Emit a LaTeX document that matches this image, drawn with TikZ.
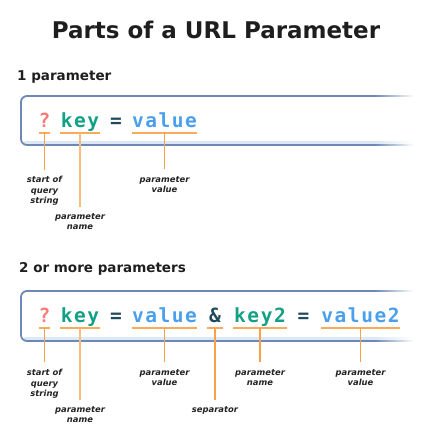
\documentclass[tikz,border=0pt]{standalone}
\usepackage{fontspec}
\setmainfont{DejaVu Sans}
\newfontfamily\codefont[LetterSpace=8]{DejaVu Sans Mono}
\definecolor{boxc}{HTML}{6E88B5}
\definecolor{boxin}{HTML}{DDE8F6}
\definecolor{qc}{HTML}{F47C7C}
\definecolor{keyc}{HTML}{14A085}
\definecolor{opc}{HTML}{1F4A5C}
\definecolor{valc}{HTML}{4B9FEC}
\definecolor{orc}{HTML}{F7A248}
\definecolor{lblc}{HTML}{222222}
\definecolor{titc}{HTML}{1E1E1E}
\tikzset{
  tok/.style={anchor=base, inner sep=0pt, font=\codefont\bfseries\fontsize{19.5}{21}\selectfont},
  uline/.style={draw=orc!90, line width=1.5pt},
  conn/.style={draw=orc, line width=1.2pt},
  lbl/.style={anchor=north, inner sep=0pt, align=center, text=lblc,
    font=\bfseries\itshape\fontsize{8.4}{10.5}\selectfont},
  head/.style={anchor=base west, inner sep=0pt, text=titc, font=\bfseries\fontsize{13.5}{15}\selectfont},
}
\begin{document}
\begin{tikzpicture}[x=1pt,y=-1pt]
\useasboundingbox (0,0) rectangle (432,440);
% title
\node[anchor=base, inner sep=0pt, text=titc, font=\bfseries\fontsize{23}{26}\selectfont] (title) at (216,38.5) {Parts of a URL Parameter};
\node[head] (h1) at (17,80) {1 parameter};
\node[head] (h2) at (19,272) {2 or more parameters};
% boxes
\foreach \t/\b in {96/145, 291/341}{
  \fill[boxin] (24,\b-4) rectangle (375,\b);
  \shade[left color=boxin, right color=white] (375,\b-4) rectangle (413,\b);
  \draw[boxc, line width=1.8pt, rounded corners=6pt] (376,\t) -- (21,\t) -- (21,\b) -- (376,\b);
  \shade[left color=boxc, right color=white] (375,\t-0.9) rectangle (414,\t+0.9);
  \shade[left color=boxc, right color=white] (375,\b-0.9) rectangle (414,\b+0.9);
}
% row 1 tokens
\node[tok, text=qc] (q1) at (44.5,127) {?};
\node[tok, text=keyc] (k1) at (80,127) {key};
\node[tok, text=opc] (e1) at (116,127) {=};
\node[tok, text=valc] (v1) at (164.5,127) {value};
\draw[uline] (39,133) -- (50,133);
\draw[uline] (60,133) -- (100,133);
\draw[uline] (132,133) -- (197,133);
\coordinate (uq1) at (44.5,133);
\coordinate (uk1) at (80,133);
\coordinate (uv1) at (164.5,133);
\node[lbl] (lq1) at (44.5,176) {start of\\query\\string};
\node[lbl] (lk1) at (80,213) {parameter\\name};
\node[lbl] (lv1) at (164.5,176) {parameter\\value};
\draw[conn] (uq1) -- (44.5,170);
\draw[conn, orc!70] (uk1) -- (80,207);
\draw[conn] (uv1) -- (164.5,169);
% row 2 tokens
\node[tok, text=qc] (q2) at (44.5,322.5) {?};
\node[tok, text=keyc] (k2) at (80,322.5) {key};
\node[tok, text=opc] (e2) at (116,322.5) {=};
\node[tok, text=valc] (v2) at (164.5,322.5) {value};
\node[tok, text=opc] (a2) at (215,322.5) {\&};
\node[tok, text=keyc] (k3) at (260,322.5) {key2};
\node[tok, text=opc] (e3) at (303.5,322.5) {=};
\node[tok, text=valc] (v3) at (360.5,322.5) {value2};
\draw[uline] (39,328) -- (50,328);
\draw[uline] (60,328) -- (100,328);
\draw[uline] (132,328) -- (197,328);
\draw[uline] (207,328) -- (223,328);
\draw[uline] (233,328) -- (287,328);
\draw[uline] (321,328) -- (400,328);
\coordinate (uq2) at (44.5,328);
\coordinate (uk2) at (80,328);
\coordinate (uv2) at (164.5,328);
\coordinate (ua2) at (215,328);
\coordinate (uk3) at (260,328);
\coordinate (uv3) at (360.5,328);
\node[lbl] (lq2) at (44.5,369) {start of\\query\\string};
\node[lbl] (lk2) at (80,406) {parameter\\name};
\node[lbl] (lv2) at (164.5,369) {parameter\\value};
\node[lbl] (la2) at (215,406) {separator};
\node[lbl] (lk3) at (260,369) {parameter\\name};
\node[lbl] (lv3) at (360.5,369) {parameter\\value};
\draw[conn] (uq2) -- (44.5,362);
\draw[conn, orc!70] (uk2) -- (80,400);
\draw[conn] (uv2) -- (164.5,362);
\draw[conn] (ua2) -- (215,400);
\draw[conn] (uk3) -- (260,362);
\draw[conn] (uv3) -- (360.5,362);
\end{tikzpicture}
\end{document}
